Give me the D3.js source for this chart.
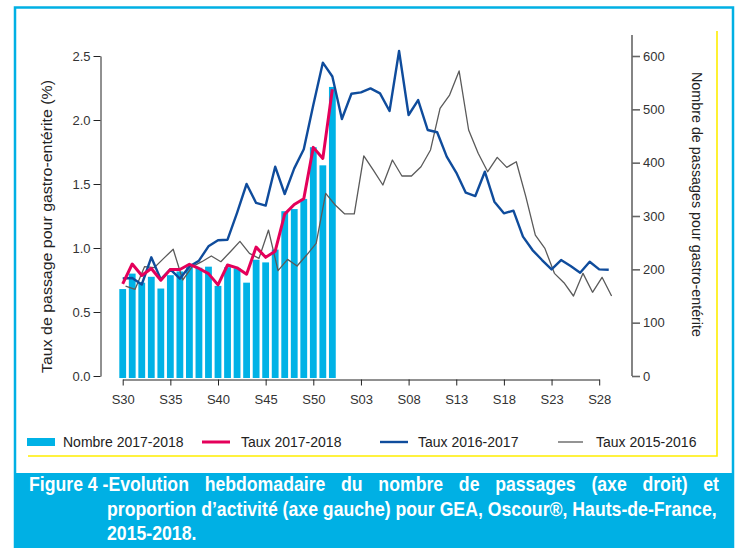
<!DOCTYPE html>
<html>
<head>
<meta charset="utf-8">
<script src="https://cdn.jsdelivr.net/npm/d3@7"></script>
<style>
  html, body { margin: 0; padding: 0; background: #fff; }
  svg { display: block; }
  text { font-family: "Liberation Sans", Arial, sans-serif; }
</style>
</head>
<body>
<svg id="chart" width="736" height="548"></svg>
<script>
// ---- Data ----
const weekTickLabels = ["S30","S35","S40","S45","S50","S03","S08","S13","S18","S23","S28"];
const weekTickIndex  = [0,5,10,15,20,25,30,35,40,45,50];

// Nombre de passages 2017-2018 (axe droit), S30..S52
const nombre2017_2018 = [163,192,175,186,164,189,196,204,203,205,169,204,202,175,218,213,237,309,313,332,429,395,542];

// Taux 2017-2018 (%), S30..S52
const taux2017_2018 = [0.72,0.875,0.785,0.84,0.748,0.833,0.832,0.873,0.84,0.80,0.712,0.867,0.845,0.795,1.007,0.927,0.975,1.265,1.34,1.385,1.786,1.70,2.24];

// Taux 2016-2017 (%), S30..S29
const taux2016_2017 = [0.763,0.766,0.715,0.927,0.755,0.833,0.76,0.855,0.901,1.013,1.06,1.065,1.275,1.5,1.352,1.331,1.635,1.422,1.622,1.771,2.117,2.448,2.34,
  2.008,2.205,2.216,2.247,2.208,2.07,2.539,2.039,2.156,1.922,1.904,1.714,1.589,1.432,1.406,1.596,1.362,1.271,1.292,1.089,0.984,0.906,0.833,0.906,0.859,0.807,0.893,0.833,0.83];

// Taux 2015-2016 (%)
const taux2015_2016 = [0.703,0.677,0.855,0.846,0.919,0.99,0.75,0.854,0.893,0.9375,0.893,0.971,1.052,0.958,0.919,1.14,0.823,0.911,0.859,0.945,1.036,1.427,1.336,1.266,
  1.266,1.719,1.609,1.492,1.6875,1.5625,1.5625,1.635,1.766,2.091,2.195,2.383,1.922,1.74,1.596,1.708,1.63,1.674,1.401,1.10,0.997,0.802,0.729,0.625,0.802,0.654,0.771,0.625];

const leftTicks = [0,0.5,1.0,1.5,2.0,2.5];
const rightTicks = [0,100,200,300,400,500,600];

const legendLabels = ["Nombre 2017-2018","Taux 2017-2018","Taux 2016-2017","Taux 2015-2016"];
const captionHead = "Figure 4 -Evolution";
const captionLines = [
  " hebdomadaire du nombre de passages (axe droit) et",
  "proportion d’activité (axe gauche) pour GEA, Oscour®, Hauts-de-France,",
  "2015-2018."
];

// ---- Colors ----
const cBar = "#00b2e6", cRed = "#e4005a", cBlue = "#0f4c9c", cGray = "#5a5a5a", cFrame = "#00b0e4";

const svg = d3.select("#chart");

// Frame and caption box
svg.append("rect").attr("x",15).attr("y",7.5).attr("width",718).attr("height",545)
  .attr("fill","#fff").attr("stroke",cFrame).attr("stroke-width",2.5);
svg.append("rect").attr("x",14).attr("y",473).attr("width",720).attr("height",75).attr("fill",cFrame);

// yellow guide lines
svg.append("path").attr("d","M717,31V456H28").attr("fill","none").attr("stroke","#ffee00").attr("stroke-width",1.6);

// ---- Scales ----
const x = d3.scaleLinear().domain([0,50]).range([122.7,599.2]);
const yL = d3.scaleLinear().domain([0,2.5]).range([376,56]);
const yR = d3.scaleLinear().domain([0,600]).range([376,56]);

// Bars
const barW = 6.8;
svg.append("g").selectAll("rect").data(nombre2017_2018).join("rect")
  .attr("x",(d,i)=>x(i)-barW/2).attr("width",barW)
  .attr("y",d=>yR(d)).attr("height",d=>yR(0)-yR(d)+2)
  .attr("fill",cBar);

// Lines
const lineGen = (offset)=> d3.line().x((d,i)=>x(i+offset)).y(d=>yL(d));
svg.append("path").datum(taux2015_2016).attr("d",lineGen(0.3))
  .attr("fill","none").attr("stroke",cGray).attr("stroke-width",1.3).attr("stroke-linejoin","round");
svg.append("path").datum(taux2016_2017).attr("d",lineGen(0))
  .attr("fill","none").attr("stroke",cBlue).attr("stroke-width",2.4).attr("stroke-linejoin","round");
svg.append("path").datum(taux2017_2018).attr("d",lineGen(0))
  .attr("fill","none").attr("stroke",cRed).attr("stroke-width",3).attr("stroke-linejoin","round");

// ---- Axes ----
const axL = svg.append("g").attr("transform","translate(100.5,0)")
  .call(d3.axisLeft(yL).tickValues(leftTicks).tickFormat(d3.format(".1f")).tickSize(7).tickSizeOuter(0));
axL.selectAll("text").attr("font-size",13).attr("fill","#333").attr("font-family","Liberation Sans").attr("x",-10);
axL.selectAll("line,path").attr("stroke","#222");

const axR = svg.append("g").attr("transform","translate(632,0)")
  .call(d3.axisRight(yR).tickValues(rightTicks).tickFormat(d3.format("d")).tickSize(8).tickSizeOuter(0));
axR.select(".domain").attr("d","M0,376V35");
axR.selectAll("text").attr("font-size",13).attr("fill","#333").attr("font-family","Liberation Sans").attr("x",11);
axR.selectAll("line,path").attr("stroke","#666").attr("stroke-width",1.6);

const axB = svg.append("g").attr("transform","translate(0,379.5)")
  .call(d3.axisBottom(x).tickValues(weekTickIndex).tickFormat((d,i)=>weekTickLabels[i]).tickSize(6).tickSizeOuter(0));
axB.selectAll("text").attr("font-size",13).attr("fill","#333").attr("font-family","Liberation Sans").attr("y",15);
axB.selectAll("line,path").attr("stroke","#222");

// Axis titles
svg.append("text").attr("transform","translate(52,226.5) rotate(-90)")
  .attr("text-anchor","middle").attr("font-size",15).attr("fill","#222")
  .attr("textLength",293).attr("lengthAdjust","spacingAndGlyphs")
  .text("Taux de passage pour gastro-entérite (%)");
svg.append("text").attr("transform","translate(692,204.5) rotate(90)")
  .attr("text-anchor","middle").attr("font-size",14.5).attr("fill","#222")
  .attr("textLength",265).attr("lengthAdjust","spacingAndGlyphs")
  .text("Nombre de passages pour gastro-entérite");

// ---- Legend ----
const lg = svg.append("g");
const ly = 442;
lg.append("rect").attr("x",27).attr("y",ly-4).attr("width",28).attr("height",8).attr("fill",cBar);
lg.append("line").attr("x1",202).attr("x2",230).attr("y1",ly).attr("y2",ly).attr("stroke",cRed).attr("stroke-width",3);
lg.append("line").attr("x1",380).attr("x2",408).attr("y1",ly).attr("y2",ly).attr("stroke",cBlue).attr("stroke-width",2.4);
lg.append("line").attr("x1",558).attr("x2",583).attr("y1",ly).attr("y2",ly).attr("stroke",cGray).attr("stroke-width",1.3);
const lx = [63, 241, 418, 596];
legendLabels.forEach((t,i)=>{
  lg.append("text").attr("x",lx[i]).attr("y",ly+5).attr("font-size",14).attr("fill","#222").text(t);
});

// ---- Caption (condensed via horizontal scaling) ----
const cap = svg.append("g").attr("fill","#fff").attr("font-weight","bold").attr("font-size",20);
const g2 = cap.append("g");
const c2 = g2.append("text").attr("x",0).attr("y",0).text(captionLines[1]);
const w2 = c2.node().getComputedTextLength();
const sx = Math.min(1, 610 / w2);
g2.attr("transform",`translate(107,515.5) scale(${sx},1)`);

const g1 = cap.append("g").attr("transform",`translate(29,491) scale(${sx},1)`);
const c1 = g1.append("text").attr("x",0).attr("y",0);
const tHead = c1.append("tspan").text(captionHead);
const tRest = c1.append("tspan").text(captionLines[0]);
const w1 = c1.node().getComputedTextLength();
const target1 = 690 / sx;
if (w1 < target1) tRest.attr("word-spacing",(target1 - w1) / 8);

const g3 = cap.append("g").attr("transform",`translate(107,540) scale(${sx},1)`);
g3.append("text").attr("x",0).attr("y",0).text(captionLines[2]);
</script>
</body>
</html>
